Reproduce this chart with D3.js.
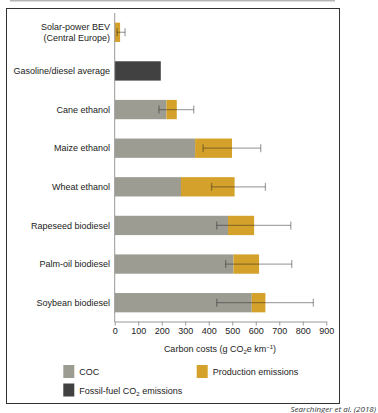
<!DOCTYPE html>
<html>
<head>
<meta charset="utf-8">
<script src="https://cdn.jsdelivr.net/npm/d3@7"></script>
<style>
  html, body { margin: 0; padding: 0; background: #fff; overflow: hidden; }
  svg { display: block; }
</style>
</head>
<body>
<svg id="chart"></svg>
<script>
// Data (g CO2e per km)
const categories = ["Solar-power BEV|(Central Europe)", "Gasoline/diesel average", "Cane ethanol",
  "Maize ethanol", "Wheat ethanol", "Rapeseed biodiesel", "Palm-oil biodiesel", "Soybean biodiesel"];
const cocValues = [0, 0, 220, 342, 282, 482, 505, 583];
const productionValues = [23, 0, 44, 157, 228, 111, 109, 58];
const fossilValues = [0, 196, 0, 0, 0, 0, 0, 0];
const errLow = [10, null, 188, 376, 412, 434, 472, 434];
const errHigh = [44, null, 336, 621, 641, 749, 753, 845];
const xTicks = [0, 100, 200, 300, 400, 500, 600, 700, 800, 900];

const width = 378, height = 413;
const colors = {coc: "#9d9c93", prod: "#d4a12a", fossil: "#414141"};
const font = "'Liberation Sans', Arial, sans-serif";
const fs = 9;

const svg = d3.select("#chart").attr("width", width).attr("height", height);

// top grey strip and frame
svg.append("rect").attr("x", 10).attr("y", 0).attr("width", 325).attr("height", 1.5)
  .attr("fill", "#b5b5b5");
svg.append("rect").attr("x", 6.5).attr("y", 8.5).attr("width", 333).attr("height", 395)
  .attr("fill", "none").attr("stroke", "#333").attr("stroke-width", 1);

let xScale = d3.scaleLinear().domain([0, 900]).range([114.7, 326.3]);
let yScale = d3.scaleBand().domain(categories).range([13, 322]).paddingInner(0.5).paddingOuter(0.25);

// stacked bars: COC, production, fossil
let rows = categories.map((c, i) => ({
  cat: c, coc: cocValues[i], prod: productionValues[i], fossil: fossilValues[i],
  lo: errLow[i], hi: errHigh[i]
}));

let bars = svg.append("g");
bars.selectAll(".coc").data(rows).enter().append("rect")
  .attr("x", xScale(0))
  .attr("y", d => yScale(d.cat))
  .attr("width", d => xScale(d.coc) - xScale(0))
  .attr("height", yScale.bandwidth())
  .attr("fill", colors.coc);
bars.selectAll(".prod").data(rows).enter().append("rect")
  .attr("x", d => xScale(d.coc))
  .attr("y", d => yScale(d.cat))
  .attr("width", d => xScale(d.coc + d.prod) - xScale(d.coc))
  .attr("height", yScale.bandwidth())
  .attr("fill", colors.prod);
bars.selectAll(".fossil").data(rows).enter().append("rect")
  .attr("x", d => xScale(d.coc + d.prod))
  .attr("y", d => yScale(d.cat))
  .attr("width", d => xScale(d.coc + d.prod + d.fossil) - xScale(d.coc + d.prod))
  .attr("height", yScale.bandwidth())
  .attr("fill", colors.fossil);

// error bars
let err = svg.append("g").attr("stroke", "#222").attr("stroke-opacity", 0.4).attr("stroke-width", 1.3);
rows.filter(d => d.lo !== null).forEach(d => {
  let cy = yScale(d.cat) + yScale.bandwidth() / 2;
  err.append("line").attr("x1", xScale(d.lo)).attr("x2", xScale(d.hi)).attr("y1", cy).attr("y2", cy);
  err.append("line").attr("x1", xScale(d.lo)).attr("x2", xScale(d.lo)).attr("y1", cy - 4).attr("y2", cy + 4);
  err.append("line").attr("x1", xScale(d.hi)).attr("x2", xScale(d.hi)).attr("y1", cy - 4).attr("y2", cy + 4);
});

// y axis line and category labels
svg.append("line").attr("x1", xScale(0)).attr("x2", xScale(0)).attr("y1", 13).attr("y2", 322)
  .attr("stroke", "#999").attr("stroke-width", 1);
rows.forEach(d => {
  let parts = d.cat.split("|");
  let cy = yScale(d.cat) + yScale.bandwidth() / 2;
  let t = svg.append("text").attr("x", 110).attr("text-anchor", "end")
    .attr("font-family", font).attr("font-size", fs).attr("fill", "#222");
  parts.forEach((p, k) => {
    t.append("tspan").attr("x", 110)
      .attr("y", cy + 3.2 + (k - (parts.length - 1) / 2) * 11)
      .text(p);
  });
});

// x axis
let xAxis = d3.axisBottom(xScale).tickValues(xTicks).tickSize(4).tickSizeOuter(0);
let gX = svg.append("g").attr("transform", "translate(0,321.5)").call(xAxis);
gX.select(".domain").attr("stroke", "#999");
gX.selectAll(".tick line").attr("stroke", "#999");
gX.selectAll(".tick text").attr("font-family", font).attr("font-size", fs).attr("fill", "#222")
  .attr("dy", "0.9em").attr("y", 4);

let title = svg.append("text").attr("x", 220).attr("y", 352).attr("text-anchor", "middle")
  .attr("font-family", font).attr("font-size", fs).attr("fill", "#222");
title.append("tspan").text("Carbon costs (g CO");
title.append("tspan").attr("font-size", 6).attr("dy", 2).text("2");
title.append("tspan").attr("dy", -2).text("e km");
title.append("tspan").attr("font-size", 6).attr("dy", -3).text("\u22121");
title.append("tspan").attr("dy", 3).text(")");

// legend
const legendItems = [
  {label: "COC", color: colors.coc, x: 63.3, y: 365},
  {label: "Production emissions", color: colors.prod, x: 196.7, y: 365},
  {label: "Fossil-fuel CO|2| emissions", color: colors.fossil, x: 63.3, y: 383.5}
];
legendItems.forEach(l => {
  svg.append("rect").attr("x", l.x).attr("y", l.y).attr("width", 11).attr("height", 13).attr("fill", l.color);
  let t = svg.append("text").attr("x", l.x + 16).attr("y", l.y + 10)
    .attr("font-family", font).attr("font-size", fs).attr("fill", "#222");
  let parts = l.label.split("|");
  t.append("tspan").text(parts[0]);
  if (parts.length > 1) {
    t.append("tspan").attr("font-size", 6).attr("dy", 2).text(parts[1]);
    t.append("tspan").attr("dy", -2).text(parts[2]);
  }
});

// source caption
svg.append("text").attr("x", 376).attr("y", 411.5).attr("text-anchor", "end")
  .attr("font-family", "'Open Sans', 'Liberation Sans', sans-serif").attr("font-style", "italic")
  .attr("font-size", 8).attr("fill", "#333")
  .text("Searchinger et al. (2018)");
</script>
</body>
</html>
